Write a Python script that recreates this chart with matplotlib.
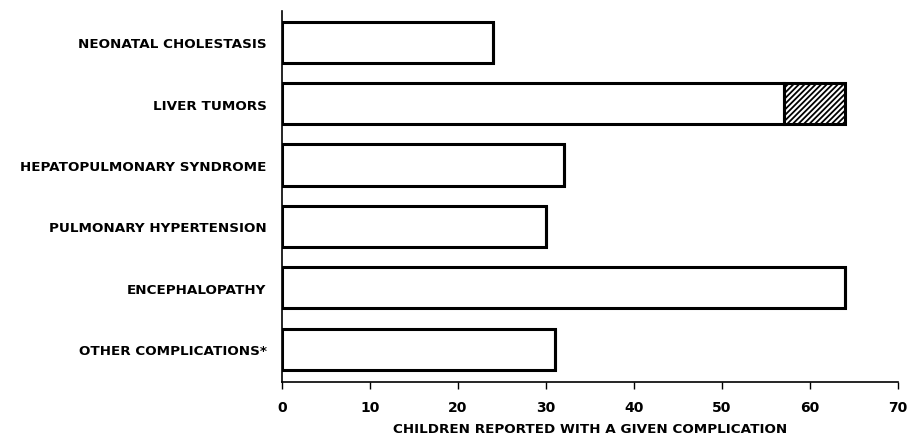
import matplotlib.pyplot as plt
import numpy as np

# data
complications = ["NEONATAL CHOLESTASIS", "LIVER TUMORS", "HEPATOPULMONARY SYNDROME",
                 "PULMONARY HYPERTENSION", "ENCEPHALOPATHY", "OTHER COMPLICATIONS*"]
children = [24, 57, 32, 30, 64, 31]
extra_hatched = [0, 7, 0, 0, 0, 0]
xticks = [0, 10, 20, 30, 40, 50, 60, 70]
xlabel = "CHILDREN REPORTED WITH A GIVEN COMPLICATION"

plt.rcParams['font.family'] = ['Liberation Sans Narrow', 'DejaVu Sans']
plt.rcParams['hatch.linewidth'] = 1.3

fig = plt.figure(figsize=(9.09, 4.39), dpi=100)
ax = fig.add_axes([0.310, 0.128, 0.678, 0.845])

y = np.arange(len(complications))
ax.barh(y, children, height=0.67, color="white", edgecolor="black", linewidth=2.2)
ax.barh(y, extra_hatched, left=children, height=0.67, color="white",
        edgecolor="black", linewidth=2.2, hatch="//////")

ax.set_ylim(len(complications) - 0.47, -0.51)
ax.set_xlim(0, 70)
ax.set_xticks(xticks)
ax.set_yticks(y)
ax.set_yticklabels(complications, fontsize=9.7, fontweight="bold")
ax.tick_params(axis="y", length=0, pad=11)
ax.tick_params(axis="x", length=5, width=1, labelsize=10, pad=8)
for lab in ax.get_xticklabels():
  lab.set_fontweight("bold")
ax.set_xlabel(xlabel, fontsize=9.7, fontweight="bold", labelpad=6)

for side in ["top", "right"]:
  ax.spines[side].set_visible(False)
ax.spines["left"].set_linewidth(1.2)
ax.spines["bottom"].set_linewidth(1.2)

fig.savefig("out.png", dpi=100)
